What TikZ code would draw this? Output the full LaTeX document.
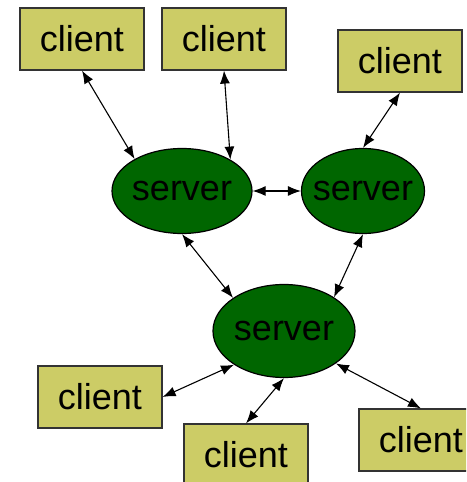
\documentclass[tikz,border=0pt]{standalone}
\usepackage{fontspec}
\setmainfont{Liberation Sans}
\usetikzlibrary{shapes.geometric, arrows.meta}
\definecolor{clientfill}{RGB}{204,204,102}
\definecolor{serverfill}{RGB}{0,102,0}
\tikzset{
	client/.style={rectangle, draw=black!80, fill=clientfill, line width=1.2pt,
		minimum width=124pt, minimum height=62pt, inner sep=0pt,
		font=\fontsize{36}{40}\selectfont},
	server/.style={ellipse, draw=black, fill=serverfill, line width=1.2pt,
		inner sep=0pt, minimum height=85pt, font=\fontsize{36}{40}\selectfont},
	link/.style={{Latex[length=13pt,width=10pt]}-{Latex[length=13pt,width=10pt]},
		line width=1.1pt}
}
\newcommand{\srvtext}{\makebox[0pt]{server}}

\begin{document}
\begin{tikzpicture}[x=1pt, y=1pt]
	\clip (0,0) rectangle (466,482);
	\def\ytop{443}
	\def\ymid{291}
	\node[server, minimum width=140pt] (s1) at (182, \ymid) {\srvtext};
	\node[server, minimum width=123pt] (s2) at (363, \ymid) {\srvtext};
	\node[server, minimum width=142pt, minimum height=93pt] (s3) at (284, 151) {\srvtext};
	\node[client] (c1) at (82, \ytop) {client};
	\node[client] (c2) at (224, \ytop) {client};
	\node[client] (c3) at (400, 421) {client};
	\node[client] (c4) at (100, 85) {client};
	\node[client] (c5) at (246, 27) {client};
	\node[client] (c6) at (421, 42) {client};
%%%%
	\draw[link] (c1.south) -- (s1.146);
	\draw[link] (c2.south) -- (s1.33);
	\draw[link] (c3.south) -- (s2.north);
	\draw[link] (s1.east) -- (s2.west);
	\draw[link] (s1.south) -- (s3.147);
	\draw[link] (s2.south) -- (s3.34);
	\draw[link] (c4.east) -- (s3.214);
	\draw[link] (c5.north) -- (s3.south);
	\draw[link] (c6.north) -- (s3.-32);
\end{tikzpicture}
\end{document}
